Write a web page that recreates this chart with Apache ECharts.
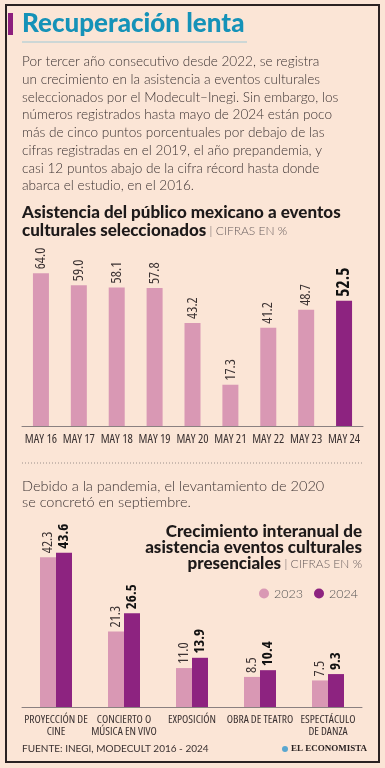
<!DOCTYPE html>
<html><head><meta charset="utf-8">
<script src="https://cdn.jsdelivr.net/npm/echarts@6/dist/echarts.min.js"></script>
<style>html,body{margin:0;padding:0;background:#fbe5d6}#c{width:385px;height:768px}</style>
</head><body><div id="c"></div>
<script>
const years = ['MAY 16','MAY 17','MAY 18','MAY 19','MAY 20','MAY 21','MAY 22','MAY 23','MAY 24'];
const attendance = [64.0, 59.0, 58.1, 57.8, 43.2, 17.3, 41.2, 48.7, 52.5];
const events = ['PROYECCIÓN DE\nCINE','CONCIERTO O\nMÚSICA EN VIVO','EXPOSICIÓN','OBRA DE TEATRO','ESPECTÁCULO\nDE DANZA'];
const v2023 = [42.3, 21.3, 11.0, 8.5, 7.5];
const v2024 = [43.6, 26.5, 13.9, 10.4, 9.3];

const PINK = '#d998b4', PURPLE = '#8d2380', TXT = '#3b3232';
const COND = '"Open Sans","Roboto Condensed",sans-serif';
const SANS = 'Lato,"Open Sans",sans-serif';

const chart = echarts.init(document.getElementById('c'));
const bodyLines = [
 'Por tercer año consecutivo desde 2022, se registra',
 'un crecimiento en la asistencia a eventos culturales',
 'seleccionados por el Modecult–Inegi. Sin embargo, los',
 'números registrados hasta mayo de 2024 están poco',
 'más de cinco puntos porcentuales por debajo de las',
 'cifras registradas en el 2019, el año prepandemia, y',
 'casi 12 puntos abajo de la cifra récord hasta donde',
 'abarca el estudio, en el 2016.'
];
const BOLD = '900 17px '+SANS;
const graphics = [
 {type:'rect', shape:{x:6,y:5,width:373,height:757}, style:{fill:'none',stroke:'#2a2222',lineWidth:2}},
 {type:'rect', shape:{x:8,y:13,width:5,height:22}, style:{fill:'#8d1f7d'}},
 {type:'text', x:22, y:24, style:{text:'Recuperación lenta', font:'900 26px '+SANS, fill:'#1592b8', verticalAlign:'middle'}},
 {type:'line', shape:{x1:22,y1:42,x2:247,y2:42}, style:{stroke:'#9fc9d6',lineWidth:1}},
 {type:'line', shape:{x1:22,y1:463,x2:362,y2:463}, style:{stroke:'#9a8f8a',lineWidth:1,lineDash:[1,2]}},
 {type:'text', x:22, y:213, style:{text:'Asistencia del público mexicano a eventos', font:BOLD, fill:'#1e1a1a', verticalAlign:'middle'}},
 {type:'text', x:22, y:231, style:{text:'{b|culturales seleccionados} {l|| CIFRAS EN %}', verticalAlign:'middle',
   rich:{b:{font:BOLD, fill:'#1e1a1a'}, l:{font:'300 12px '+SANS, fill:'#6b6060'}}}},
 {type:'text', x:22, y:486, style:{text:'Debido a la pandemia, el levantamiento de 2020', font:'300 14.5px '+SANS, fill:TXT, verticalAlign:'middle'}},
 {type:'text', x:22, y:502, style:{text:'se concretó en septiembre.', font:'300 14.5px '+SANS, fill:TXT, verticalAlign:'middle'}},
 {type:'text', x:362, y:532, style:{text:'Crecimiento interanual de', font:BOLD, fill:'#1e1a1a', align:'right', verticalAlign:'middle'}},
 {type:'text', x:362, y:548, style:{text:'asistencia eventos culturales', font:BOLD, fill:'#1e1a1a', align:'right', verticalAlign:'middle'}},
 {type:'text', x:362, y:564, style:{text:'{b|presenciales} {l|| CIFRAS EN %}', align:'right', verticalAlign:'middle',
   rich:{b:{font:BOLD, fill:'#1e1a1a'}, l:{font:'300 12px '+SANS, fill:'#6b6060'}}}},
 {type:'text', x:22, y:749, style:{text:'FUENTE: INEGI, MODECULT 2016 - 2024', font:'10px '+SANS, fill:TXT, verticalAlign:'middle'}},
 {type:'circle', shape:{cx:285,cy:749,r:3}, style:{fill:'#5aa7d0'}},
 {type:'text', x:291, y:749, style:{text:'EL ECONOMISTA', font:'bold 9px "Liberation Serif","DejaVu Serif",serif', fill:'#2a2222', verticalAlign:'middle'}}
];
bodyLines.forEach((t,i)=>graphics.push({type:'text', x:22, y:62+i*17.7, style:{text:t, font:'300 13.6px '+SANS, fill:TXT, verticalAlign:'middle'}}));

const valLabel = {show:true, position:'top', rotate:90, align:'left', verticalAlign:'middle', distance:4,
  fontFamily:COND, fontWeight:'condensed', fontSize:14.5, color:TXT, formatter:p=>p.value.toFixed(1)};

chart.setOption({
 backgroundColor:'#fbe5d6',
 animation:false,
 graphic:graphics,
 legend:{data:['2023','2024'], right:22, top:582, icon:'circle', itemWidth:10, itemHeight:10, itemGap:11,
   textStyle:{fontFamily:SANS, fontWeight:300, fontSize:12.5, color:'#555'}},
 grid:[{left:22, right:22, top:259, bottom:342}, {left:22, right:23, top:530, bottom:61}],
 xAxis:[
  {type:'category', gridIndex:0, data:years, axisTick:{show:false}, axisLine:{lineStyle:{color:'#8a8080',width:1}},
   axisLabel:{fontFamily:COND, fontWeight:'500 condensed', fontSize:12.5, color:TXT, margin:7, interval:0}},
  {type:'category', gridIndex:1, data:events, axisTick:{show:false}, axisLine:{lineStyle:{color:'#8a8080',width:1}},
   axisLabel:{fontFamily:COND, fontWeight:'500 condensed', fontSize:11.5, color:TXT, margin:7, lineHeight:12, interval:0}}
 ],
 yAxis:[
  {type:'value', gridIndex:0, min:0, max:70, show:false},
  {type:'value', gridIndex:1, min:0, max:50, show:false}
 ],
 series:[
  {type:'bar', xAxisIndex:0, yAxisIndex:0, barWidth:16,
   data:attendance.map((v,i)=>i===attendance.length-1 ?
     {value:v, itemStyle:{color:PURPLE}, label:{fontWeight:'bold condensed', fontSize:17.5, color:'#111'}} : v),
   itemStyle:{color:PINK}, label:valLabel},
  {name:'2023', type:'bar', xAxisIndex:1, yAxisIndex:1, barWidth:16, barGap:'0%', data:v2023,
   itemStyle:{color:PINK}, label:valLabel},
  {name:'2024', type:'bar', xAxisIndex:1, yAxisIndex:1, barWidth:16, barGap:'0%', data:v2024,
   itemStyle:{color:PURPLE},
   label:Object.assign({}, valLabel, {fontWeight:'bold condensed', fontSize:15, color:'#111'})}
 ]
});
</script></body></html>
